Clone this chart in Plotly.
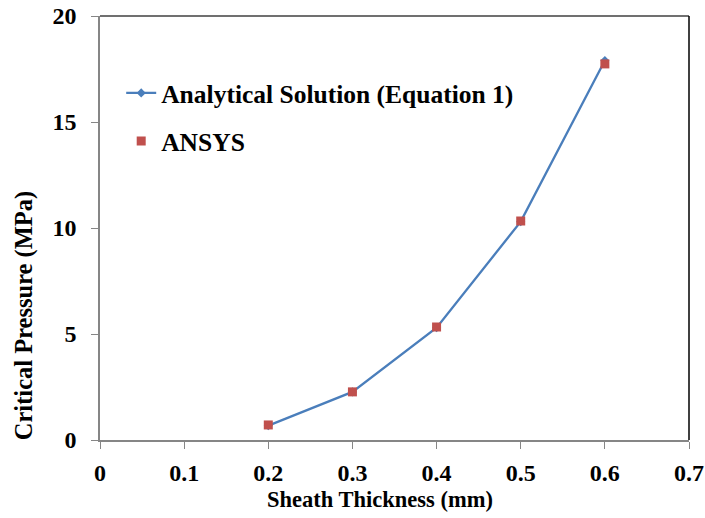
import plotly.graph_objects as go

thickness = [0.2, 0.3, 0.4, 0.5, 0.6]
analytical = [0.68, 2.27, 5.30, 10.30, 17.90]
ansys = [0.71, 2.27, 5.33, 10.33, 17.74]

x_ticks = [0, 0.1, 0.2, 0.3, 0.4, 0.5, 0.6, 0.7]
x_labels = ["0", "0.1", "0.2", "0.3", "0.4", "0.5", "0.6", "0.7"]
y_ticks = [0, 5, 10, 15, 20]

font_family = "Liberation Serif"

fig = go.Figure()
fig.add_trace(go.Scatter(
    x=thickness, y=analytical, mode="lines+markers",
    name="<b>Analytical Solution (Equation 1)</b>", legendgroup="a",
    line=dict(color="#4A7EBB", width=2.3),
    marker=dict(symbol="diamond", size=7, color="#4A7EBB"),
))
fig.add_trace(go.Scatter(
    x=thickness, y=ansys, mode="markers",
    name="<b>ANSYS</b>", legendgroup="b",
    marker=dict(symbol="square", size=9, color="#C0504D"),
))

fig.update_layout(
    width=705, height=518,
    margin=dict(l=100, r=16, t=16, b=78),
    paper_bgcolor="white", plot_bgcolor="white",
    font=dict(family=font_family, color="black", size=20),
    showlegend=True,
    legend=dict(x=0.036, y=0.873, xanchor="left", yanchor="top",
                font=dict(size=25.5, family=font_family, color="black"),
                bgcolor="rgba(0,0,0,0)", tracegroupgap=12, itemwidth=30,
                traceorder="grouped"),
    xaxis=dict(
        range=[0, 0.7], tickvals=x_ticks, ticktext=[f"<b>{t}</b>" for t in x_labels],
        showgrid=False, zeroline=False, showline=True, linecolor="#868686", linewidth=1.5,
        ticks="outside", ticklen=7, tickcolor="#868686", automargin=False,
        ticklabelstandoff=3, ticklabeloverflow="allow",
        tickfont=dict(size=24, family=font_family),
    ),
    yaxis=dict(
        range=[0, 20], tickvals=y_ticks, ticktext=[f"<b>{t}</b>" for t in y_ticks],
        showgrid=False, zeroline=False, showline=True, linecolor="#868686", linewidth=1.5,
        ticks="outside", ticklen=7, tickcolor="#868686", automargin=False,
        ticklabelstandoff=10, ticklabeloverflow="allow",
        tickfont=dict(size=24, family=font_family),
    ),
    annotations=[
        dict(text="<b>Sheath Thickness (mm)</b>", xref="paper", yref="paper",
             x=0.475, y=-0.1415, xanchor="center", yanchor="middle", showarrow=False,
             font=dict(size=22.5, family=font_family, color="black")),
        dict(text="<b>Critical Pressure (MPa)</b>", xref="paper", yref="paper",
             x=-0.129, y=0.292, xanchor="center", yanchor="middle", showarrow=False,
             textangle=-90, font=dict(size=24.5, family=font_family, color="black")),
    ],
    shapes=[
        dict(type="line", xref="paper", yref="paper", x0=0, x1=1, y0=1, y1=1,
             line=dict(color="#404040", width=1.5)),
        dict(type="line", xref="paper", yref="paper", x0=1, x1=1, y0=0, y1=1,
             line=dict(color="black", width=1.5)),
    ],
)

fig.write_html("out.html", config={"displayModeBar": False},
               post_script="document.body.style.margin='0';document.body.style.overflow='hidden';")
